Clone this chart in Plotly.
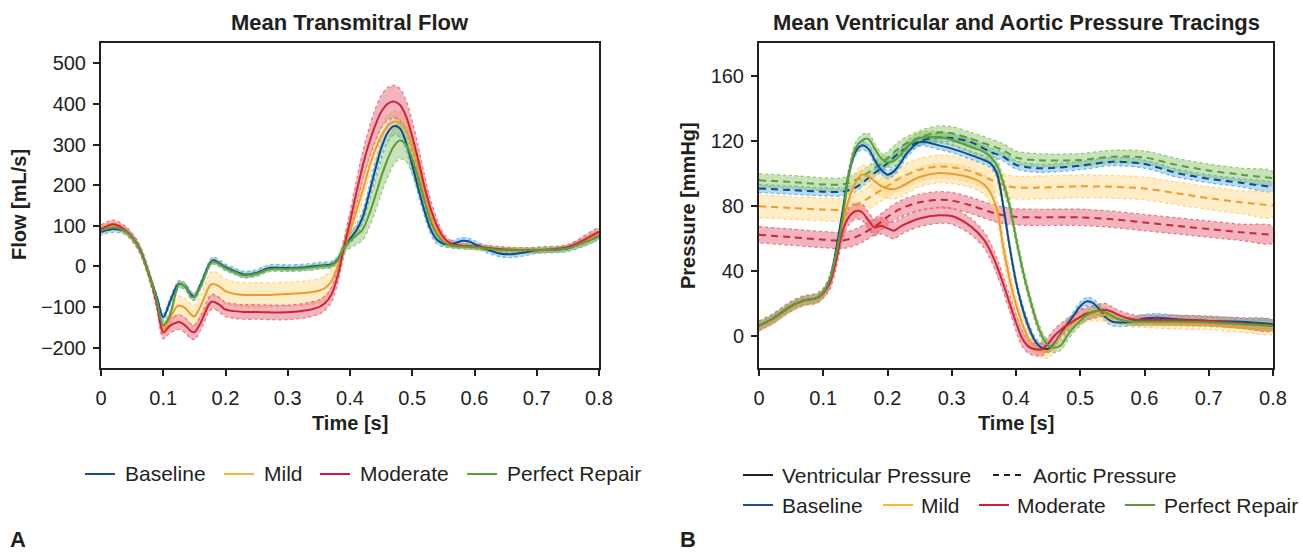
import plotly.graph_objects as go

W, H = 1303, 554
FONT = "Liberation Sans, Arial, Helvetica, sans-serif"
INK = "#231f20"

# ---------------- Panel A: Mean transmitral flow [mL/s] ----------------
t_flow = [0, 0.02, 0.04, 0.06, 0.08, 0.09, 0.1, 0.11, 0.12, 0.125, 0.135, 0.145, 0.15, 0.16, 0.175,
          0.18, 0.19, 0.2, 0.215, 0.23, 0.25, 0.27, 0.3, 0.33, 0.35, 0.36, 0.37, 0.38, 0.39, 0.4,
          0.41, 0.42, 0.43, 0.44, 0.45, 0.46, 0.47, 0.48, 0.49, 0.5, 0.51, 0.52, 0.53, 0.54, 0.55,
          0.56, 0.57, 0.58, 0.59, 0.6, 0.62, 0.64, 0.66, 0.68, 0.7, 0.75, 0.8]

flow_baseline = [85, 92, 86, 49, -33, -78, -125, -90, -53, -43, -49, -70, -75, -45, 8,
                 15, 8, -2, -12, -20, -16, -4, -4, -2, 2, 3, 5, 16, 45, 68,
                 88, 120, 175, 235, 290, 328, 345, 340, 305, 250, 190, 135, 90, 65, 56,
                 55, 58, 63, 62, 55, 42, 32, 30, 34, 40, 45, 78]
flow_mild = [90, 100, 87, 49, -35, -88, -155, -131, -102, -96, -102, -119, -123, -98, -47,
             -43, -49, -61, -68, -70, -70, -70, -68, -65, -60, -53, -37, 0, 45, 85,
             135, 185, 240, 285, 320, 345, 356, 354, 335, 295, 240, 180, 125, 88, 66,
             55, 51, 50, 49, 48, 45, 42, 41, 41, 41, 47, 80]
flow_moderate = [92, 104, 88, 50, -35, -95, -162, -147, -139, -137, -145, -160, -162, -139, -90,
                 -86, -94, -106, -110, -112, -112, -113, -113, -108, -100, -90, -70, -25, 45, 110,
                 180, 245, 300, 345, 380, 400, 406, 398, 370, 320, 260, 195, 140, 100, 72,
                 58, 53, 51, 50, 49, 46, 43, 41, 40, 40, 48, 86]
flow_perfect = [88, 96, 86, 49, -35, -85, -145, -123, -65, -45, -49, -74, -75, -49, 6,
                12, 6, -4, -14, -22, -18, -7, -6, -4, 0, 1, 3, 14, 45, 63,
                76, 90, 125, 170, 220, 262, 295, 310, 300, 265, 215, 160, 110, 78, 60,
                52, 50, 49, 48, 47, 44, 41, 40, 40, 40, 45, 74]

# half-widths of the shaded spread bands
flow_spread_baseline = [8, 8, 8, 8, 8, 8, 8, 8, 8, 8, 8, 8, 8, 8, 8,
                        8, 8, 8, 8, 8, 8, 8, 8, 8, 8, 8, 8, 8, 10, 12,
                        14, 16, 18, 20, 22, 22, 22, 22, 20, 18, 16, 14, 12, 10, 8,
                        8, 8, 8, 8, 8, 8, 8, 8, 8, 8, 8, 8]
flow_spread_mild = [8, 8, 8, 8, 10, 12, 15, 18, 20, 22, 24, 26, 28, 28, 30,
                    30, 30, 30, 30, 30, 30, 30, 30, 30, 30, 30, 28, 22, 18, 20,
                    22, 24, 25, 25, 25, 25, 25, 25, 25, 25, 22, 18, 14, 10, 8,
                    7, 6, 6, 6, 6, 6, 6, 6, 6, 6, 6, 6]
flow_spread_moderate = [10, 10, 10, 10, 12, 14, 16, 18, 18, 18, 18, 18, 18, 18, 18,
                        18, 18, 18, 18, 18, 18, 18, 18, 18, 18, 18, 18, 18, 20, 25,
                        30, 35, 38, 40, 40, 40, 40, 40, 40, 38, 34, 28, 22, 15, 10,
                        8, 7, 6, 6, 6, 6, 6, 6, 6, 6, 6, 8]
flow_spread_perfect = [6, 6, 6, 6, 6, 6, 8, 8, 8, 8, 8, 8, 8, 8, 6,
                       6, 6, 6, 6, 6, 6, 6, 6, 6, 6, 6, 6, 8, 12, 18,
                       22, 26, 32, 38, 42, 45, 45, 45, 42, 38, 32, 25, 18, 12, 8,
                       6, 6, 6, 6, 6, 6, 6, 6, 6, 6, 6, 6]

# ---------------- Panel B: ventricular (solid) and aortic (dashed) pressure [mmHg] ----------------
t_vent = [0, 0.02, 0.05, 0.07, 0.09, 0.1, 0.11, 0.12, 0.13, 0.14, 0.15, 0.16, 0.17, 0.18, 0.19,
          0.2, 0.21, 0.22, 0.23, 0.25, 0.28, 0.3, 0.33, 0.35, 0.36, 0.37, 0.38, 0.39, 0.4, 0.41,
          0.42, 0.43, 0.44, 0.45, 0.46, 0.47, 0.48, 0.49, 0.5, 0.51, 0.52, 0.53, 0.54, 0.55, 0.56,
          0.58, 0.6, 0.62, 0.65, 0.7, 0.75, 0.8]

vent_baseline = [6, 10, 18, 21.5, 23, 26.5, 34, 53, 76, 100, 113, 117, 115, 108, 102,
                 99, 101, 106, 112, 119, 117, 115, 111, 108, 106, 100, 80, 55, 33, 17,
                 5, -3.5, -7.6, -8.2, -5, 1, 7, 12.5, 18, 21, 20, 16, 11, 8.5, 8,
                 8.5, 10.5, 11, 10, 9, 8.5, 7]
vent_mild = [5.5, 9.5, 17.5, 21, 22.5, 26, 33, 50, 68, 84, 94, 99, 98, 95, 92,
             90.5, 90, 91.5, 93.5, 97.5, 100, 99.5, 97, 93, 88, 78, 55, 35, 19, 7,
             -2, -7, -9.5, -10, -6, 0, 5, 8.5, 11, 12.5, 13, 13, 12.5, 11, 10,
             8.5, 8, 7.5, 7, 6.5, 5, 4]
vent_moderate = [6, 10, 18, 21.5, 23, 26, 32, 46, 64, 73, 76.5, 76, 71, 66.5, 67.5,
                 66, 64.5, 67, 69, 72, 74, 73.5, 67, 59, 52, 43, 32, 20, 8, -2,
                 -7, -8.5, -8.5, -5, 0, 3.5, 6.5, 9, 11.5, 13.5, 14.5, 15.5, 15.7, 14.5, 12.5,
                 10, 9.5, 9.5, 9.5, 9, 7.5, 6]
vent_perfect = [6, 10, 18, 21.5, 23, 26.5, 34, 50, 72, 100, 115, 120, 121, 115, 109,
                106.6, 107.5, 111, 116, 121.5, 122, 120.5, 116, 113, 110, 105, 94, 80, 60, 41,
                25, 11, 0, -6, -7.5, -6, 0, 5, 9, 12.5, 14.5, 15, 14, 12, 10,
                8.5, 8.5, 8.5, 8.5, 8, 7, 6]

vent_spread_baseline = [2.5, 2.5, 2.5, 2.5, 2.5, 2.5, 2.5, 2.5, 2.5, 2.5, 2.5, 2.5, 2.5, 2.5, 2.5,
                        2.5, 2.5, 2.5, 2.5, 2.5, 2.5, 2.5, 2.5, 2.5, 2.5, 2.5, 2.5, 2.5, 2.5, 2.5,
                        2.5, 2.5, 2.5, 2.5, 2.5, 2.5, 2.5, 2.5, 2.5, 2.5, 2.5, 2.5, 2.5, 2.5, 2.5,
                        2.5, 2.5, 2.5, 2.5, 2.5, 2.5, 2.5]
vent_spread_mild = [3, 3, 3, 3, 3, 3, 4, 5, 6, 6, 6, 6, 6, 6, 6,
                    6, 6, 6, 6, 6, 6, 6, 6, 6, 6, 6, 6, 6, 5, 5,
                    4, 4, 4, 4, 4, 4, 4, 4, 4, 4, 4, 4, 4, 4, 3,
                    3, 3, 3, 3, 3, 3, 3]
vent_spread_moderate = [3, 3, 3, 3, 3, 3, 4, 5, 5, 5, 5, 5, 5, 5, 5,
                        5, 5, 5, 5, 5, 5, 5, 5, 5, 5, 5, 5, 5, 5, 5,
                        4, 4, 4, 4, 4, 4, 4, 4, 4, 4, 4, 4, 4, 3, 3,
                        3, 3, 3, 3, 3, 3, 3]
vent_spread_perfect = [2.5, 2.5, 2.5, 2.5, 2.5, 2.5, 3, 3.5, 3.5, 3.5, 3.5, 3.5, 3.5, 3.5, 3.5,
                       3.5, 3.5, 3.5, 3.5, 3.5, 3.5, 3.5, 3.5, 3.5, 3.5, 3.5, 3.5, 3.5, 3.5, 3.5,
                       3, 3, 3, 3, 3, 3, 3, 3, 3, 3, 3, 3, 3, 3, 2.5,
                       2.5, 2.5, 2.5, 2.5, 2.5, 2.5, 2.5]

t_aortic = [0, 0.05, 0.1, 0.13, 0.15, 0.18, 0.2, 0.22, 0.25, 0.28, 0.3, 0.33,
            0.36, 0.38, 0.4, 0.43, 0.45, 0.5, 0.55, 0.6, 0.65, 0.7, 0.75, 0.8]
aortic_baseline = [90.5, 89.5, 88.5, 88.5, 91, 100, 106, 113, 119.5, 122, 121.5, 119,
                   113, 110, 105, 103, 103, 104.5, 107, 105.5, 100, 96.5, 94, 91.2]
aortic_mild = [79.5, 78.5, 77.5, 77.5, 80, 87, 92, 97, 102, 104, 103.5, 101,
               96, 92.5, 91, 91, 91.2, 91.8, 91.5, 90.5, 87.5, 84.5, 82, 80]
aortic_moderate = [62, 60.5, 59, 58.5, 60.5, 67, 73, 78, 82, 83.5, 83, 80,
                   76, 74, 73, 72.7, 72.7, 72.7, 71.5, 69.5, 67.5, 65.5, 63.5, 62]
aortic_perfect = [95.5, 94.5, 93, 93, 95.5, 103, 109, 116, 122, 125, 124.5, 121,
                  117, 114, 109.5, 108, 107.7, 108, 110, 109.5, 105, 101.5, 99, 96.8]

aortic_spread_baseline = [2.5, 2.5, 2.5, 2.5, 2.5, 2.5, 2.5, 2.5, 2.5, 2.5, 2.5, 2.5,
                          2.5, 2.5, 2.5, 2.5, 2.5, 2.5, 2.5, 2.5, 2.5, 2.5, 2.5, 2.5]
aortic_spread_mild = [7, 7, 7, 7, 7, 7, 7, 7, 7, 7, 7, 7,
                      7, 7, 7, 7, 7, 7, 7, 7, 7, 7, 7, 7]
aortic_spread_moderate = [5, 5, 5, 5, 5, 5, 5, 5, 5, 5, 5, 5,
                          5, 5, 5, 5, 5, 5, 5, 5, 5, 5, 5, 5]
aortic_spread_perfect = [4, 4, 4, 4, 4, 4, 4, 4, 4, 4, 4, 4,
                         4, 4, 4, 4, 4, 4, 4, 4, 4, 4, 4, 4]

# ---------------- axes / labels ----------------
time_ticks = [0, 0.1, 0.2, 0.3, 0.4, 0.5, 0.6, 0.7, 0.8]
time_tick_labels = ["0", "0.1", "0.2", "0.3", "0.4", "0.5", "0.6", "0.7", "0.8"]
flow_ticks = [-200, -100, 0, 100, 200, 300, 400, 500]
flow_tick_labels = ["\u2212200", "\u2212100", "0", "100", "200", "300", "400", "500"]
pressure_ticks = [0, 40, 80, 120, 160]
pressure_tick_labels = ["0", "40", "80", "120", "160"]

group_names = ["Baseline", "Mild", "Moderate", "Perfect Repair"]
line_color = {"Baseline": "#0f4c8c", "Mild": "#f2992e", "Moderate": "#d32239", "Perfect Repair": "#5b9d3b"}
band_fill = {"Baseline": "rgba(95,175,228,0.45)", "Mild": "rgba(252,214,128,0.45)",
             "Moderate": "rgba(228,92,108,0.45)", "Perfect Repair": "rgba(135,192,100,0.45)"}
band_edge = {"Baseline": "rgba(80,170,230,0.85)", "Mild": "rgba(250,205,120,0.85)",
             "Moderate": "rgba(228,100,115,0.85)", "Perfect Repair": "rgba(135,192,100,0.85)"}
legend_color = {"Baseline": "#1d4e89", "Mild": "#fbb33a", "Moderate": "#d41a3f", "Perfect Repair": "#5a9c3c"}

flow_series = [(flow_baseline, flow_spread_baseline), (flow_mild, flow_spread_mild),
               (flow_moderate, flow_spread_moderate), (flow_perfect, flow_spread_perfect)]
vent_series = [(vent_baseline, vent_spread_baseline), (vent_mild, vent_spread_mild),
               (vent_moderate, vent_spread_moderate), (vent_perfect, vent_spread_perfect)]
aortic_series = [(aortic_baseline, aortic_spread_baseline), (aortic_mild, aortic_spread_mild),
                 (aortic_moderate, aortic_spread_moderate), (aortic_perfect, aortic_spread_perfect)]

fig = go.Figure()
SMOOTH = 0.9


def add_band(t, mean, spread, name, xa, ya):
    upper = [m + s for m, s in zip(mean, spread)]
    lower = [m - s for m, s in zip(mean, spread)]
    fig.add_trace(go.Scatter(
        x=list(t) + list(t)[::-1], y=upper + lower[::-1], mode="lines", fill="toself",
        fillcolor=band_fill[name],
        line=dict(color=band_edge[name], width=1.2, dash="dot", shape="spline", smoothing=SMOOTH),
        xaxis=xa, yaxis=ya, showlegend=False, hoverinfo="skip"))


def add_mean(t, mean, name, xa, ya, dash="solid"):
    fig.add_trace(go.Scatter(
        x=t, y=mean, mode="lines", name=name,
        line=dict(color=line_color[name], width=2, dash=dash, shape="spline", smoothing=SMOOTH),
        xaxis=xa, yaxis=ya, showlegend=False))


# Panel A
for name, (mean, spread) in zip(group_names, flow_series):
    add_band(t_flow, mean, spread, name, "x", "y")
for name, (mean, spread) in zip(group_names, flow_series):
    add_mean(t_flow, mean, name, "x", "y")

# Panel B
for name, (mean, spread) in zip(group_names, aortic_series):
    add_band(t_aortic, mean, spread, name, "x2", "y2")
for name, (mean, spread) in zip(group_names, vent_series):
    add_band(t_vent, mean, spread, name, "x2", "y2")
for name, (mean, _) in zip(group_names, aortic_series):
    add_mean(t_aortic, mean, name, "x2", "y2", dash="7px,5px")
for name, (mean, _) in zip(group_names, vent_series):
    add_mean(t_vent, mean, name, "x2", "y2")

axis_common = dict(showline=True, linecolor=INK, linewidth=2, mirror=True, ticks="outside",
                   ticklen=6, tickwidth=1.5, tickcolor=INK, showgrid=False, zeroline=False,
                   automargin=False, tickfont=dict(family=FONT, size=20, color=INK))
y_dom = [1 - 368 / H, 1 - 43 / H]

fig.update_layout(
    width=W, height=H, margin=dict(l=0, r=0, t=0, b=0),
    paper_bgcolor="white", plot_bgcolor="white", showlegend=False,
    font=dict(family=FONT, color=INK),
    xaxis=dict(domain=[101 / W, 599 / W], range=[0, 0.8], tickvals=time_ticks, ticktext=time_tick_labels,
               anchor="y", ticklabelstandoff=5, **axis_common),
    yaxis=dict(domain=y_dom, range=[-250, 550], tickvals=flow_ticks, ticktext=flow_tick_labels,
               anchor="x", ticklabelstandoff=3, **axis_common),
    xaxis2=dict(domain=[759 / W, 1273 / W], range=[0, 0.8], tickvals=time_ticks, ticktext=time_tick_labels,
                anchor="y2", ticklabelstandoff=5, **axis_common),
    yaxis2=dict(domain=y_dom, range=[-20, 180], tickvals=pressure_ticks, ticktext=pressure_tick_labels,
                anchor="x2", ticklabelstandoff=3, **axis_common),
)


def px(x):
    return x / W


def py(y):
    return 1 - y / H


annotations = []


def text(x, y, s, size=20, bold=False, xanchor="center", angle=0):
    annotations.append(dict(
        x=px(x), y=py(y), xref="paper", yref="paper", text=("<b>%s</b>" % s) if bold else s,
        showarrow=False, xanchor=xanchor, yanchor="middle", textangle=angle,
        font=dict(family=FONT, size=size, color=INK)))


# titles
text(350, 22, "Mean Transmitral Flow", size=22, bold=True)
text(1016, 22, "Mean Ventricular and Aortic Pressure Tracings", size=22, bold=True)
# axis titles
text(350, 423, "Time [s]", size=20, bold=True)
text(1016, 423, "Time [s]", size=20, bold=True)
text(19, 205, "Flow [mL/s]", size=20, bold=True, angle=-90)
text(688, 205, "Pressure [mmHg]", size=20, bold=True, angle=-90)
# panel letters
text(8, 539, "A", size=22, bold=True, xanchor="left")
text(678, 539, "B", size=22, bold=True, xanchor="left")

shapes = []


def legend_item(x_line, y, label, color, x_text, dash="solid"):
    shapes.append(dict(type="line", xref="paper", yref="paper", x0=px(x_line), x1=px(x_line + 30),
                       y0=py(y), y1=py(y), line=dict(color=color, width=2, dash=dash)))
    text(x_text - 1, y, label, size=21, xanchor="left")


# legend of panel A
for name, xl, xt in zip(group_names, [85, 224, 320, 467], [124, 263, 359, 506]):
    legend_item(xl, 474, name, legend_color[name], xt)
# legends of panel B
legend_item(743, 475, "Ventricular Pressure", INK, 781)
legend_item(993, 475, "Aortic Pressure", INK, 1032, dash="6px,5px")
for name, xl, xt in zip(group_names, [743, 883, 979, 1125], [781, 920, 1016, 1163]):
    legend_item(xl, 505, name, legend_color[name], xt)

fig.update_layout(annotations=annotations, shapes=shapes)

fig.write_html("out.html")
